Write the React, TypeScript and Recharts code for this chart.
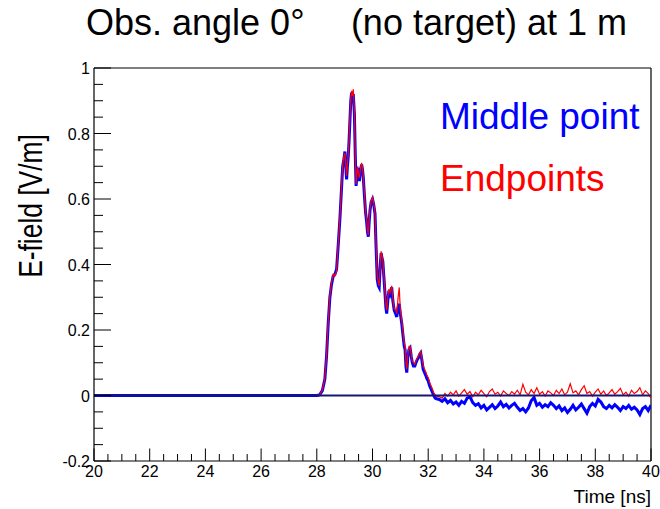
import { LineChart, Line, XAxis, YAxis, ReferenceLine } from "recharts"

// baseline before the pulse
const baseTimes = [20, 28.0]
const baseValues = [0, 0]

// pulse region (ns)
const peakTimes = [
  28.1, 28.2, 28.29, 28.35, 28.41, 28.47, 28.53, 28.59, 28.65, 28.71, 28.77, 28.83, 28.88, 28.93, 28.97,
  29.01, 29.04, 29.07, 29.1, 29.13, 29.16, 29.19, 29.22, 29.25, 29.28, 29.31, 29.35, 29.38, 29.41, 29.44,
  29.47, 29.5, 29.53, 29.57, 29.61, 29.64, 29.67, 29.71, 29.75, 29.79, 29.82, 29.85, 29.88, 29.91, 29.95,
  30.0, 30.04, 30.09, 30.13, 30.17, 30.21, 30.24, 30.28, 30.31, 30.34, 30.37, 30.41, 30.45, 30.48, 30.51,
  30.55, 30.59, 30.63, 30.69, 30.73, 30.78, 30.83, 30.87, 30.92, 30.96, 31.0, 31.05, 31.1, 31.14, 31.17,
  31.2, 31.23, 31.27, 31.31, 31.35, 31.39, 31.43, 31.47, 31.52, 31.56, 31.61, 31.65, 31.69, 31.73, 31.77,
  31.82, 31.87, 31.92, 31.96, 32.0, 32.05, 32.1, 32.15, 32.2, 32.25, 32.3,
]
const peakMiddle = [
  0.002, 0.015, 0.05, 0.12, 0.22, 0.3, 0.34, 0.365, 0.37, 0.385, 0.46, 0.54, 0.62, 0.7, 0.72,
  0.745, 0.7, 0.66, 0.7, 0.73, 0.78, 0.84, 0.9, 0.925, 0.91, 0.92, 0.86, 0.74, 0.64, 0.67,
  0.695, 0.67, 0.655, 0.69, 0.705, 0.69, 0.665, 0.61, 0.56, 0.53, 0.5, 0.485, 0.53, 0.565, 0.59,
  0.6, 0.585, 0.555, 0.45, 0.355, 0.335, 0.33, 0.4, 0.435, 0.42, 0.41, 0.36, 0.31, 0.27, 0.25,
  0.29, 0.32, 0.31, 0.33, 0.29, 0.26, 0.25, 0.24, 0.27, 0.28, 0.25, 0.22, 0.18, 0.15, 0.14,
  0.09, 0.07, 0.12, 0.14, 0.145, 0.12, 0.1, 0.09, 0.09, 0.1, 0.11, 0.115, 0.125, 0.13, 0.11,
  0.08, 0.07, 0.06, 0.05, 0.045, 0.03, 0.02, 0.01, 0.0, -0.008, -0.01,
]
const peakEnd = [
  0.002, 0.016, 0.052, 0.125, 0.225, 0.305, 0.345, 0.37, 0.365, 0.38, 0.465, 0.545, 0.625, 0.705, 0.73,
  0.74, 0.71, 0.67, 0.705, 0.74, 0.785, 0.85, 0.905, 0.93, 0.915, 0.935, 0.87, 0.745, 0.645, 0.675,
  0.7, 0.675, 0.665, 0.695, 0.71, 0.695, 0.67, 0.615, 0.565, 0.535, 0.505, 0.49, 0.535, 0.57, 0.595,
  0.605, 0.59, 0.56, 0.455, 0.365, 0.345, 0.335, 0.405, 0.44, 0.425, 0.415, 0.365, 0.315, 0.28, 0.26,
  0.3, 0.325, 0.315, 0.335, 0.295, 0.265, 0.26, 0.25, 0.3, 0.33, 0.26, 0.23, 0.19, 0.16, 0.15,
  0.1, 0.08, 0.125, 0.15, 0.15, 0.125, 0.105, 0.1, 0.095, 0.105, 0.115, 0.12, 0.13, 0.135, 0.115,
  0.09, 0.08, 0.07, 0.06, 0.055, 0.04, 0.03, 0.02, 0.008, 0.002, -0.002,
]

// noise tail, sampled every 0.1 ns from 32.4 to 40
const tailTimes = Array.from({ length: 77 }, (_, i) => Math.round((32.4 + i * 0.1) * 10) / 10)
const tailMiddle = [
  -0.012, -0.018, -0.01, -0.022, -0.015, -0.026, -0.02, -0.03, -0.018, -0.024, -0.008, -0.004, -0.022, -0.03, -0.025,
  -0.038, -0.03, -0.044, -0.036, -0.028, -0.04, -0.032, -0.02, -0.034, -0.027, -0.038, -0.03, -0.024, -0.036, -0.046,
  -0.04, -0.05, -0.038, -0.016, -0.006, -0.03, -0.024, -0.036, -0.028, -0.034, -0.022, -0.03, -0.04, -0.032, -0.046,
  -0.038, -0.052, -0.042, -0.03, -0.044, -0.036, -0.026, -0.04, -0.054, -0.034, -0.024, -0.032, -0.012, -0.02, -0.034,
  -0.04, -0.03, -0.038, -0.028, -0.036, -0.046, -0.034, -0.04, -0.03, -0.042, -0.036, -0.044, -0.058, -0.04, -0.034,
  -0.046, -0.03,
]
const tailEnd = [
  -0.004, -0.008, 0.006, -0.002, 0.01, 0.002, 0.014, -0.002, 0.008, 0.018, 0.004, 0.012, -0.004, 0.01, 0.002,
  0.016, 0.006, -0.004, 0.012, 0.02, 0.004, 0.01, -0.002, 0.014, 0.006, 0.0, 0.012, 0.004, 0.016, 0.002,
  0.034, 0.01, 0.002, 0.018, 0.006, 0.024, 0.004, 0.012, -0.002, 0.014, 0.008, 0.0, 0.016, 0.006, 0.02,
  0.002, 0.01, 0.036, 0.008, 0.014, 0.002, 0.018, 0.03, 0.006, 0.012, -0.002, 0.01, 0.02, 0.004, 0.014,
  0.0, 0.008, 0.018, 0.004, 0.012, 0.022, 0.002, 0.01, -0.002, 0.016, 0.006, 0.012, 0.024, 0.002, 0.014,
  0.006, -0.008,
]

const xTicks = [
  20, 20.5, 21, 21.5, 22, 22.5, 23, 23.5, 24, 24.5, 25, 25.5, 26, 26.5, 27, 27.5, 28, 28.5, 29, 29.5, 30,
  30.5, 31, 31.5, 32, 32.5, 33, 33.5, 34, 34.5, 35, 35.5, 36, 36.5, 37, 37.5, 38, 38.5, 39, 39.5, 40,
]
const xLabels = ["20", "22", "24", "26", "28", "30", "32", "34", "36", "38", "40"]
const yTicks = [
  -0.2, -0.15, -0.1, -0.05, 0, 0.05, 0.1, 0.15, 0.2, 0.25, 0.3, 0.35, 0.4, 0.45, 0.5, 0.55, 0.6, 0.65, 0.7,
  0.75, 0.8, 0.85, 0.9, 0.95, 1,
]
const yLabels = ["-0.2", "0", "0.2", "0.4", "0.6", "0.8", "1"]

const build = (times: number[], vals: number[]) => times.map((t, i) => ({ t, v: vals[i] }))
const middleData = [...build(baseTimes, baseValues), ...build(peakTimes, peakMiddle), ...build(tailTimes, tailMiddle)]
const endData = [...build(baseTimes, baseValues), ...build(peakTimes, peakEnd), ...build(tailTimes, tailEnd)]

const FONT = "'Liberation Sans', Arial, Helvetica, sans-serif"

const XTick = ({ x, y, payload }: any) => {
  const label = xLabels.find((l) => Math.abs(Number(l) - payload.value) < 1e-6)
  return (
    <g>
      <line x1={x} y1={y} x2={x} y2={y - (label ? 12.5 : 7)} stroke="#000" strokeWidth={1} />
      {label && (
        <text x={x} y={y + 16} textAnchor="middle" fontSize={16} fontFamily={FONT} fill="#000">
          {label}
        </text>
      )}
    </g>
  )
}

const YTick = ({ x, y, payload }: any) => {
  const label = yLabels.find((l) => Math.abs(Number(l) - payload.value) < 1e-6)
  return (
    <g>
      <line x1={x} y1={y} x2={x + (label ? 17 : 9)} y2={y} stroke="#000" strokeWidth={1} />
      {label && (
        <text x={x - 4} y={y + 6} textAnchor="end" fontSize={16} fontFamily={FONT} fill="#000">
          {label}
        </text>
      )}
    </g>
  )
}

export default function App() {
  return (
    <div style={{ position: "relative", width: 660, height: 509, background: "#fff" }}>
      <style>{`body{margin:0}`}</style>
      <LineChart width={660} height={509} margin={{ top: 68, right: 9, bottom: 0, left: 0 }}>
        <XAxis
          type="number"
          dataKey="t"
          domain={[20, 40]}
          ticks={xTicks}
          interval={0}
          height={48}
          tickSize={0}
          tickMargin={0}
          tick={<XTick />}
          axisLine={{ stroke: "#000", strokeWidth: 1.2 }}
          allowDataOverflow
        />
        <YAxis
          type="number"
          domain={[-0.2, 1]}
          ticks={yTicks}
          interval={0}
          width={94}
          tickSize={0}
          tickMargin={0}
          tick={<YTick />}
          axisLine={{ stroke: "#000", strokeWidth: 1.2 }}
          allowDataOverflow
        />
        <ReferenceLine y={1} stroke="#000" strokeWidth={1.2} />
        <ReferenceLine x={40} stroke="#000" strokeWidth={1.2} />
        <Line data={middleData} dataKey="v" type="linear" stroke="#0000ff" strokeWidth={3} dot={false} isAnimationActive={false} />
        <Line data={endData} dataKey="v" type="linear" stroke="#ff0000" strokeWidth={1.2} dot={false} isAnimationActive={false} />
        <ReferenceLine y={0} stroke="#15157a" strokeWidth={2} />
      </LineChart>
      <svg width={660} height={509} style={{ position: "absolute", left: 0, top: 0, pointerEvents: "none" }}>
        <text x={86} y={35} fontSize={36} fontFamily={FONT} fill="#000">
          Obs. angle 0°
        </text>
        <text x={627} y={35} textAnchor="end" fontSize={36} fontFamily={FONT} fill="#000">
          (no target) at 1 m
        </text>
        <text x={440} y={129} fontSize={37} fontFamily={FONT} fill="#0000ff">
          Middle point
        </text>
        <text x={440} y={191} fontSize={37} fontFamily={FONT} fill="#ff0000">
          Endpoints
        </text>
        <text x={651} y={503} textAnchor="end" fontSize={19} fontFamily={FONT} fill="#000">
          Time [ns]
        </text>
        <text transform="translate(42,206) rotate(-90) scale(0.8,1)" textAnchor="middle" fontSize={33} fontFamily={FONT} fill="#000">
          E-field [V/m]
        </text>
      </svg>
    </div>
  )
}
